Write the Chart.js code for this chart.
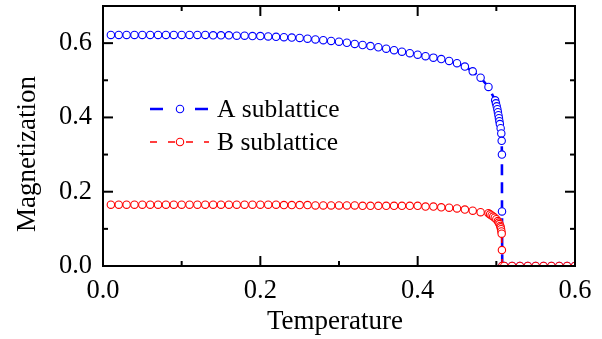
<!DOCTYPE html>
<html>
<head>
<meta charset="utf-8">
<script src="https://cdn.jsdelivr.net/npm/chart.js@4.4.0/dist/chart.umd.min.js"></script>
<style>
  html, body { margin: 0; padding: 0; background: #fff; }
  #wrap { width: 602px; height: 339px; }
</style>
</head>
<body>
<div id="wrap"><canvas id="c" width="602" height="339"></canvas></div>
<script>
// Sublattice magnetization versus temperature

// A sublattice
const tempA = [
  0.01, 0.02, 0.03, 0.04, 0.05, 0.06, 0.07, 0.08, 0.09, 0.10,
  0.11, 0.12, 0.13, 0.14, 0.15, 0.16, 0.17, 0.18, 0.19, 0.20,
  0.21, 0.22, 0.23, 0.24, 0.25, 0.26, 0.27, 0.28, 0.29, 0.30,
  0.31, 0.32, 0.33, 0.34, 0.35, 0.36, 0.37, 0.38, 0.39, 0.40,
  0.41, 0.42, 0.43, 0.44, 0.45, 0.46, 0.47, 0.48, 0.49,
  0.4985, 0.4995, 0.5005, 0.5013, 0.5020, 0.5027, 0.5033, 0.5039, 0.5045,
  0.5055, 0.5063, 0.5068, 0.5071, 0.5072, 0.5075,
  0.51, 0.52, 0.53, 0.54, 0.55, 0.56, 0.57, 0.58, 0.59, 0.60
];
const magA = [
  0.622, 0.622, 0.622, 0.622, 0.622, 0.622, 0.622, 0.622, 0.622, 0.622,
  0.622, 0.622, 0.622, 0.621, 0.621, 0.621, 0.620, 0.620, 0.619, 0.619,
  0.618, 0.617, 0.616, 0.615, 0.614, 0.612, 0.610, 0.608, 0.606, 0.604,
  0.601, 0.598, 0.595, 0.592, 0.589, 0.585, 0.581, 0.577, 0.573, 0.569,
  0.565, 0.561, 0.557, 0.552, 0.546, 0.537, 0.524, 0.507, 0.482,
  0.446, 0.438, 0.430, 0.422, 0.414, 0.406, 0.398, 0.390, 0.382,
  0.371, 0.357, 0.337, 0.300, 0.147, 0.000,
  0, 0, 0, 0, 0, 0, 0, 0, 0, 0
];

// B sublattice
const tempB = [
  0.01, 0.02, 0.03, 0.04, 0.05, 0.06, 0.07, 0.08, 0.09, 0.10,
  0.11, 0.12, 0.13, 0.14, 0.15, 0.16, 0.17, 0.18, 0.19, 0.20,
  0.21, 0.22, 0.23, 0.24, 0.25, 0.26, 0.27, 0.28, 0.29, 0.30,
  0.31, 0.32, 0.33, 0.34, 0.35, 0.36, 0.37, 0.38, 0.39, 0.40,
  0.41, 0.42, 0.43, 0.44, 0.45, 0.46, 0.47, 0.48,
  0.490, 0.492, 0.494, 0.496, 0.498, 0.500, 0.502, 0.503, 0.504,
  0.505, 0.5055, 0.506, 0.5065, 0.5068, 0.5071, 0.5075,
  0.51, 0.52, 0.53, 0.54, 0.55, 0.56, 0.57, 0.58, 0.59, 0.60
];
const magB = [
  0.165, 0.165, 0.165, 0.165, 0.165, 0.165, 0.165, 0.165, 0.165, 0.165,
  0.165, 0.165, 0.165, 0.165, 0.165, 0.165, 0.165, 0.165, 0.165, 0.165,
  0.165, 0.165, 0.164, 0.164, 0.164, 0.164, 0.163, 0.163, 0.163, 0.163,
  0.163, 0.163, 0.162, 0.162, 0.162, 0.162, 0.162, 0.162, 0.162, 0.162,
  0.160, 0.160, 0.158, 0.157, 0.155, 0.152, 0.149, 0.145,
  0.142, 0.139, 0.136, 0.133, 0.130, 0.126, 0.121, 0.117, 0.113,
  0.108, 0.104, 0.099, 0.093, 0.087, 0.043, 0.000,
  0, 0, 0, 0, 0, 0, 0, 0, 0, 0
];

const seriesNames = ['A sublattice', 'B sublattice'];

// Axis ticks
const xMajor = [0.0, 0.2, 0.4, 0.6];
const xMinor = [0.1, 0.3, 0.5];
const yMajor = [0.0, 0.2, 0.4, 0.6];
const yMinor = [0.1, 0.3, 0.5];
const xTitle = 'Temperature';
const yTitle = 'Magnetization';

const FONT = '"Liberation Serif", "Times New Roman", serif';
Chart.defaults.font.family = FONT;
Chart.defaults.font.size = 26.5;
Chart.defaults.color = '#000';

const pts = (xs, ys) => xs.map((x, i) => ({ x: x, y: ys[i] }));

// Frame, inward ticks, axis titles and legend
const decor = {
  id: 'decor',
  afterDraw(chart) {
    const ctx = chart.ctx;
    const { left, right, top, bottom } = chart.chartArea;
    const xs = chart.scales.x, ys = chart.scales.y;
    ctx.save();
    ctx.strokeStyle = '#000';
    ctx.lineWidth = 2;
    ctx.lineCap = 'butt';
    ctx.strokeRect(left, top, right - left, bottom - top);

    const tick = (x1, y1, x2, y2) => { ctx.beginPath(); ctx.moveTo(x1, y1); ctx.lineTo(x2, y2); ctx.stroke(); };
    const MAJ = 10, MIN = 5;
    xMajor.forEach(v => { const p = xs.getPixelForValue(v); tick(p, bottom, p, bottom - MAJ); tick(p, top, p, top + MAJ); });
    xMinor.forEach(v => { const p = xs.getPixelForValue(v); tick(p, bottom, p, bottom - MIN); tick(p, top, p, top + MIN); });
    yMajor.forEach(v => { const p = ys.getPixelForValue(v); tick(left, p, left + MAJ, p); tick(right, p, right - MAJ, p); });
    yMinor.forEach(v => { const p = ys.getPixelForValue(v); tick(left, p, left + MIN, p); tick(right, p, right - MIN, p); });

    // axis titles
    ctx.fillStyle = '#000';
    ctx.font = '27px ' + FONT;
    ctx.textAlign = 'center';
    ctx.textBaseline = 'middle';
    ctx.fillText(xTitle, 335, 322);
    ctx.save();
    ctx.translate(28, 154);
    ctx.rotate(-Math.PI / 2);
    ctx.fillText(yTitle, 0, 0);
    ctx.restore();

    // legend
    ctx.font = '25.5px ' + FONT;
    const rows = [109, 142];
    chart.data.datasets.forEach((ds, i) => {
      const y = rows[i];
      ctx.save();
      ctx.strokeStyle = ds.borderColor;
      ctx.lineWidth = ds.borderWidth;
      ctx.setLineDash(ds.legendDash);
      ctx.beginPath(); ctx.moveTo(150, y); ctx.lineTo(209, y); ctx.stroke();
      ctx.setLineDash([]);
      ctx.lineWidth = ds.pointBorderWidth;
      ctx.fillStyle = '#fff';
      ctx.beginPath(); ctx.arc(180, y, ds.pointRadius, 0, Math.PI * 2); ctx.fill(); ctx.stroke();
      ctx.restore();
      ctx.fillStyle = '#000';
      ctx.textAlign = 'left';
      ctx.fillText(ds.label, 217, y + 1);
    });
    ctx.restore();
  }
};

new Chart(document.getElementById('c'), {
  type: 'line',
  data: {
    datasets: [
      {
        label: seriesNames[0],
        data: pts(tempA, magA),
        borderColor: '#0000ff',
        borderWidth: 2.6,
        borderDash: [11, 7],
        legendDash: [13, 32],
        pointRadius: 3.7,
        pointBorderWidth: 1.1,
        pointBorderColor: '#0000ff',
        pointBackgroundColor: '#ffffff',
        order: 2
      },
      {
        label: seriesNames[1],
        data: pts(tempB, magB),
        borderColor: '#ff0000',
        borderWidth: 1.6,
        borderDash: [6, 5],
        legendDash: [7, 11],
        pointRadius: 3.7,
        pointBorderWidth: 1.1,
        pointBorderColor: '#ff0000',
        pointBackgroundColor: '#ffffff',
        order: 1
      }
    ]
  },
  options: {
    responsive: false,
    animation: false,
    devicePixelRatio: 1,
    layout: { padding: { top: 6, right: 27, left: 0, bottom: 0 } },
    plugins: { legend: { display: false }, tooltip: { enabled: false } },
    scales: {
      x: {
        type: 'linear',
        min: 0, max: 0.6,
        grid: { display: false, drawTicks: false },
        border: { display: false },
        ticks: { padding: 9, maxRotation: 0, callback: v => v.toFixed(1) },
        afterBuildTicks: s => { s.ticks = xMajor.map(v => ({ value: v })); },
        afterFit: s => { s.height = 73; s.paddingLeft = 0; s.paddingRight = 0; }
      },
      y: {
        type: 'linear',
        min: 0, max: 0.7,
        grid: { display: false, drawTicks: false },
        border: { display: false },
        ticks: { padding: 11, callback: v => v.toFixed(1) },
        afterBuildTicks: s => { s.ticks = yMajor.map(v => ({ value: v })); },
        afterFit: s => { s.width = 103; s.paddingTop = 0; s.paddingBottom = 0; }
      }
    }
  },
  plugins: [decor]
});
</script>
</body>
</html>
